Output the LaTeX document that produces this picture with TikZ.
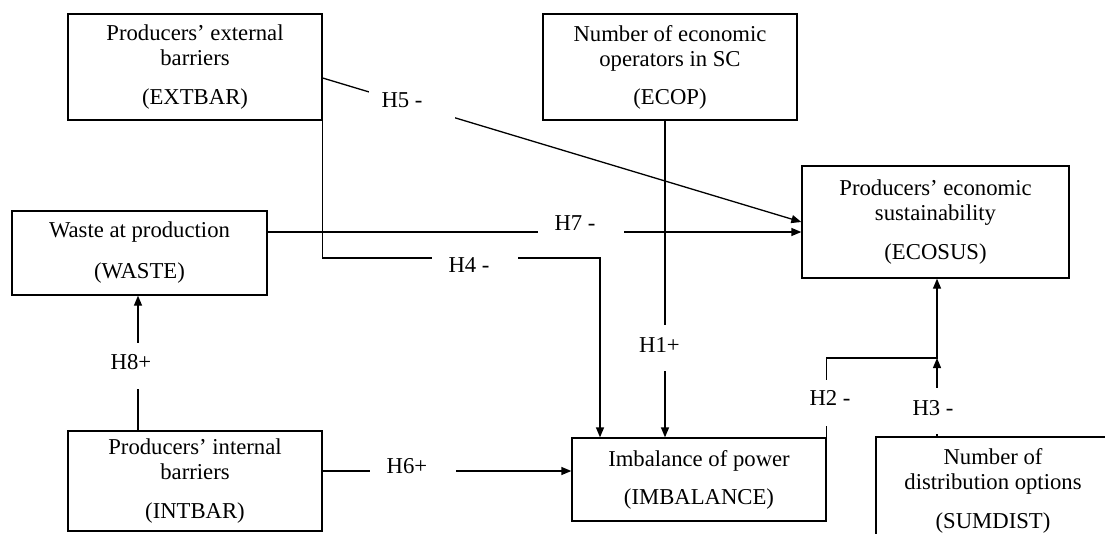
\documentclass[tikz,border=0pt]{standalone}
\usepackage{fontspec}
\setmainfont{Liberation Serif}
\usetikzlibrary{arrows.meta}
\begin{document}
\begin{tikzpicture}[x=1pt,y=-1pt,
  txt/.style={font=\fontsize{22.7}{25}\selectfont},
  box/.style={txt, draw, line width=1.3pt, rectangle, inner sep=0pt, align=center},
  conn/.style={line width=1.3pt},
  arr/.style={conn, -{Triangle[length=10pt,width=8pt]}},
  hgap/.style={fill=white, inner sep=0pt, minimum width=86pt, minimum height=46pt},
  vgap/.style={fill=white, inner sep=0pt, minimum width=60pt, minimum height=46pt},
  hyp/.style={txt, inner sep=0pt}
]
\path[use as bounding box] (0,0) rectangle (1105,533);
\clip (0,0) rectangle (1105,533);

% constructs
\node[box, minimum width=254pt, minimum height=106pt] (extbar) at (195,67)
  {Producers’ external\\barriers\\[14pt](EXTBAR)};
\node[box, minimum width=254pt, minimum height=106pt] (ecop) at (670,67)
  {Number of economic\\operators in SC\\[13pt](ECOP)};
\node[box, minimum width=267pt, minimum height=112pt] (ecosus) at (935.5,222)
  {Producers’ economic\\sustainability\\[14pt](ECOSUS)};
\node[box, minimum width=255pt, minimum height=84pt] (waste) at (139.5,253)
  {Waste at production\\[16pt](WASTE)};
\node[box, minimum width=254pt, minimum height=100pt] (intbar) at (195,481)
  {Producers’ internal\\barriers\\[14pt](INTBAR)};
\node[box, minimum width=254pt, minimum height=83pt] (imbalance) at (699,479.5)
  {Imbalance of power\\[13pt](IMBALANCE)};
\node[box, minimum width=234pt, minimum height=108pt] (sumdist) at (993,491)
  {Number of\\distribution options\\[14pt](SUMDIST)};

% bend points
\coordinate (h4bend) at (600,258);
\coordinate (h1x) at (665,0);
\coordinate (join) at (937,358);

% paths
\draw[arr] ([yshift=-11pt]extbar.east) -- (ecosus.west);
\draw[arr] ([yshift=21pt]waste.east) -- ([yshift=21pt]waste.east -| ecosus.west);
\draw[arr] (extbar.south east) |- (h4bend) -- (h4bend |- imbalance.north);
\draw[arr] (ecop.south -| h1x) -- (h1x |- imbalance.north);
\draw[arr] ([yshift=10pt]intbar.east) -- ([yshift=10pt]intbar.east -| imbalance.west);
\draw[arr] (intbar.north -| 138,0) -- (waste.south -| 138,0);
\draw[arr] (imbalance.north east) |- (join) -- (join |- ecosus.south);
\draw[arr] (sumdist.north -| join) -- (join);

% hypothesis labels, set in white gaps on the paths
\node[hgap] (g5) at (412,104.5) {};
\node[hgap] (g7) at (580.5,232) {};
\node[hgap] (g4) at (475,258) {};
\node[hgap] (g6) at (413,471) {};
\node[vgap] (g8) at (138,365.5) {};
\node[vgap] (g1) at (665,348) {};
\node[vgap] (g2) at (826,402.5) {};
\node[vgap] (g3) at (937,410.5) {};

\node[hyp] (h5) at (402,100) {H5 -};
\node[hyp] (h7) at (575,223) {H7 -};
\node[hyp] (h4) at (469,265) {H4 -};
\node[hyp] (h6) at (407,466) {H6+};
\node[hyp] (h8) at (131,362) {H8+};
\node[hyp] (h1) at (659.5,345) {H1+};
\node[hyp] (h2) at (830,398) {H2 -};
\node[hyp] (h3) at (933,408) {H3 -};
\end{tikzpicture}
\end{document}
